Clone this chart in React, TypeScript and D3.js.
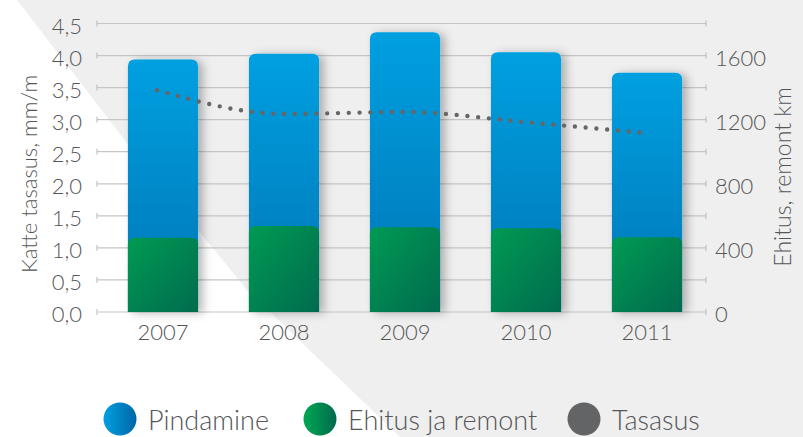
import React from 'react';
import * as d3 from 'd3';

const years = ['2007', '2008', '2009', '2010', '2011'];
// km, stacked: green at the bottom, blue on top
const ehitusRemont = [464, 537, 529, 523, 467];
const pindamine = [1111, 1075, 1217, 1098, 1025];
// mm/m, left axis
const tasasus = [3.46, 3.09, 3.12, 2.96, 2.79];

const leftTicks = [0, 0.5, 1, 1.5, 2, 2.5, 3, 3.5, 4, 4.5];
const rightTicks = [0, 200, 400, 600, 800, 1000, 1200, 1400, 1600, 1800];
const rightLabels = [0, 400, 800, 1200, 1600];

const legendItems = [
  { label: 'Pindamine', fill: 'url(#legBlue)' },
  { label: 'Ehitus ja remont', fill: 'url(#legGreen)' },
  { label: 'Tasasus', fill: '#636466' },
];

const W = 803;
const H = 437;
const FONT = 'Lato, "Open Sans", sans-serif';
const TXT = '#555658';

const fmtComma = d3.formatLocale({ decimal: ',', thousands: ' ', grouping: [3], currency: ['', ''] }).format('.1f');

// rounded-top bar path
const topRounded = (x: number, y: number, w: number, h: number, r: number) => {
  const rr = Math.min(r, h / 2, w / 2);
  return `M${x},${y + h}V${y + rr}Q${x},${y} ${x + rr},${y}H${x + w - rr}Q${x + w},${y} ${x + w},${y + rr}V${y + h}Z`;
};

const App: React.FC = () => {
  const plotLeft = 97;
  const plotRight = 706;
  const x = d3.scaleBand<string>().domain(years).range([102, 708]).paddingInner(0.42).paddingOuter(0.214);
  const yL = d3.scaleLinear().domain([0, 4.5]).range([312, 23.5]);
  const yR = d3.scaleLinear().domain([0, 1800]).range([312, 23.5]);

  const table = years.map((y, i) => ({ year: y, ehitus: ehitusRemont[i], pindamine: pindamine[i] }));
  const stacked = d3.stack<any>().keys(['ehitus', 'pindamine'])(table);

  const linePts = years.map((y, i) => [x(y)! + x.bandwidth() / 2, yL(tasasus[i])] as [number, number]);
  linePts[0][0] -= 6; // the reference line starts a little left of the first bar centre
  const line = d3.line().curve(d3.curveMonotoneX)(linePts) || '';

  const legendX = [120, 320, 584];

  return (
    <svg width={W} height={H} style={{ position: 'absolute', left: 0, top: 0, fontFamily: FONT }}>
      <defs>
        <linearGradient id="barBlue" x1="0" y1="0" x2="0" y2="1">
          <stop offset="0" stopColor="#00a0e0" />
          <stop offset="1" stopColor="#0075b6" />
        </linearGradient>
        <linearGradient id="barGreen" x1="0" y1="0" x2="1" y2="1">
          <stop offset="0" stopColor="#009a53" />
          <stop offset="1" stopColor="#006b4e" />
        </linearGradient>
        <linearGradient id="legBlue" x1="0" y1="0" x2="1" y2="0">
          <stop offset="0" stopColor="#00a0e0" />
          <stop offset="1" stopColor="#0066a8" />
        </linearGradient>
        <linearGradient id="legGreen" x1="0" y1="0" x2="1" y2="0">
          <stop offset="0" stopColor="#00a852" />
          <stop offset="1" stopColor="#00694e" />
        </linearGradient>
        <filter id="barShadow" x="-20%" y="-10%" width="160%" height="120%">
          <feDropShadow dx="5" dy="1" stdDeviation="5" floodColor="#000" floodOpacity="0.28" />
        </filter>
      </defs>

      {/* background */}
      <rect x={0} y={0} width={W} height={H} fill="#efefef" />
      <polygon points="0,0 17,0 127,143 247,290 400,437 0,437" fill="#ffffff" />

      {/* grid + ticks */}
      {leftTicks.map(t => (
        <g key={`g${t}`}>
          <line x1={plotLeft} x2={plotRight} y1={yL(t)} y2={yL(t)} stroke="#c6c6c6" strokeWidth={1.2} />
          <line x1={plotLeft} x2={plotLeft} y1={yL(t) - 3} y2={yL(t) + 3} stroke="#b8b8b8" strokeWidth={1} />
          <text x={82} y={yL(t) + 10} textAnchor="end" fontSize={22} fontWeight={300} fill={TXT}>
            {fmtComma(t)}
          </text>
        </g>
      ))}
      {rightTicks.map(t => (
        <line key={`r${t}`} x1={plotRight} x2={plotRight} y1={yR(t) - 3} y2={yR(t) + 3} stroke="#b8b8b8" strokeWidth={1} />
      ))}
      {rightLabels.map(t => (
        <text key={`rl${t}`} x={715} y={yR(t) + 10} textAnchor="start" fontSize={22} fontWeight={300} fill={TXT}>
          {t}
        </text>
      ))}

      {/* bars */}
      {years.map((yr, i) => {
        const bx = x(yr)!;
        const bw = x.bandwidth();
        const top = yR(stacked[1][i][1]);
        const gTop = yR(stacked[0][i][1]);
        return (
          <g key={yr}>
            <path d={topRounded(bx, top, bw, yR(0) - top, 7)} fill="url(#barBlue)" filter="url(#barShadow)" />
            <path d={topRounded(bx, gTop, bw, yR(0) - gTop, 7)} fill="url(#barGreen)" />
          </g>
        );
      })}

      {/* dotted evenness line */}
      <path d={line} fill="none" stroke="#666666" strokeWidth={4.4} strokeLinecap="round" strokeDasharray="0 10.8" />

      {/* x labels */}
      {years.map(yr => (
        <text key={`x${yr}`} x={x(yr)! + x.bandwidth() / 2} y={340} textAnchor="middle" fontSize={22} fontWeight={300} fill={TXT}>
          {yr}
        </text>
      ))}

      {/* axis titles */}
      <text transform="translate(37,174) rotate(-90)" textAnchor="middle" fontSize={22} fontWeight={300} fill={TXT}>
        Katte tasasus, mm/m
      </text>
      <text transform="translate(791,177) rotate(-90)" textAnchor="middle" fontSize={23} fontWeight={300} fill={TXT}>
        Ehitus, remont km
      </text>

      {/* legend */}
      {legendItems.map((it, i) => (
        <g key={it.label}>
          <circle cx={legendX[i]} cy={419} r={16.5} fill={it.fill} />
          <text x={legendX[i] + 28} y={430} fontSize={27} fontWeight={300} fill={TXT}>
            {it.label}
          </text>
        </g>
      ))}
    </svg>
  );
};

export default App;
